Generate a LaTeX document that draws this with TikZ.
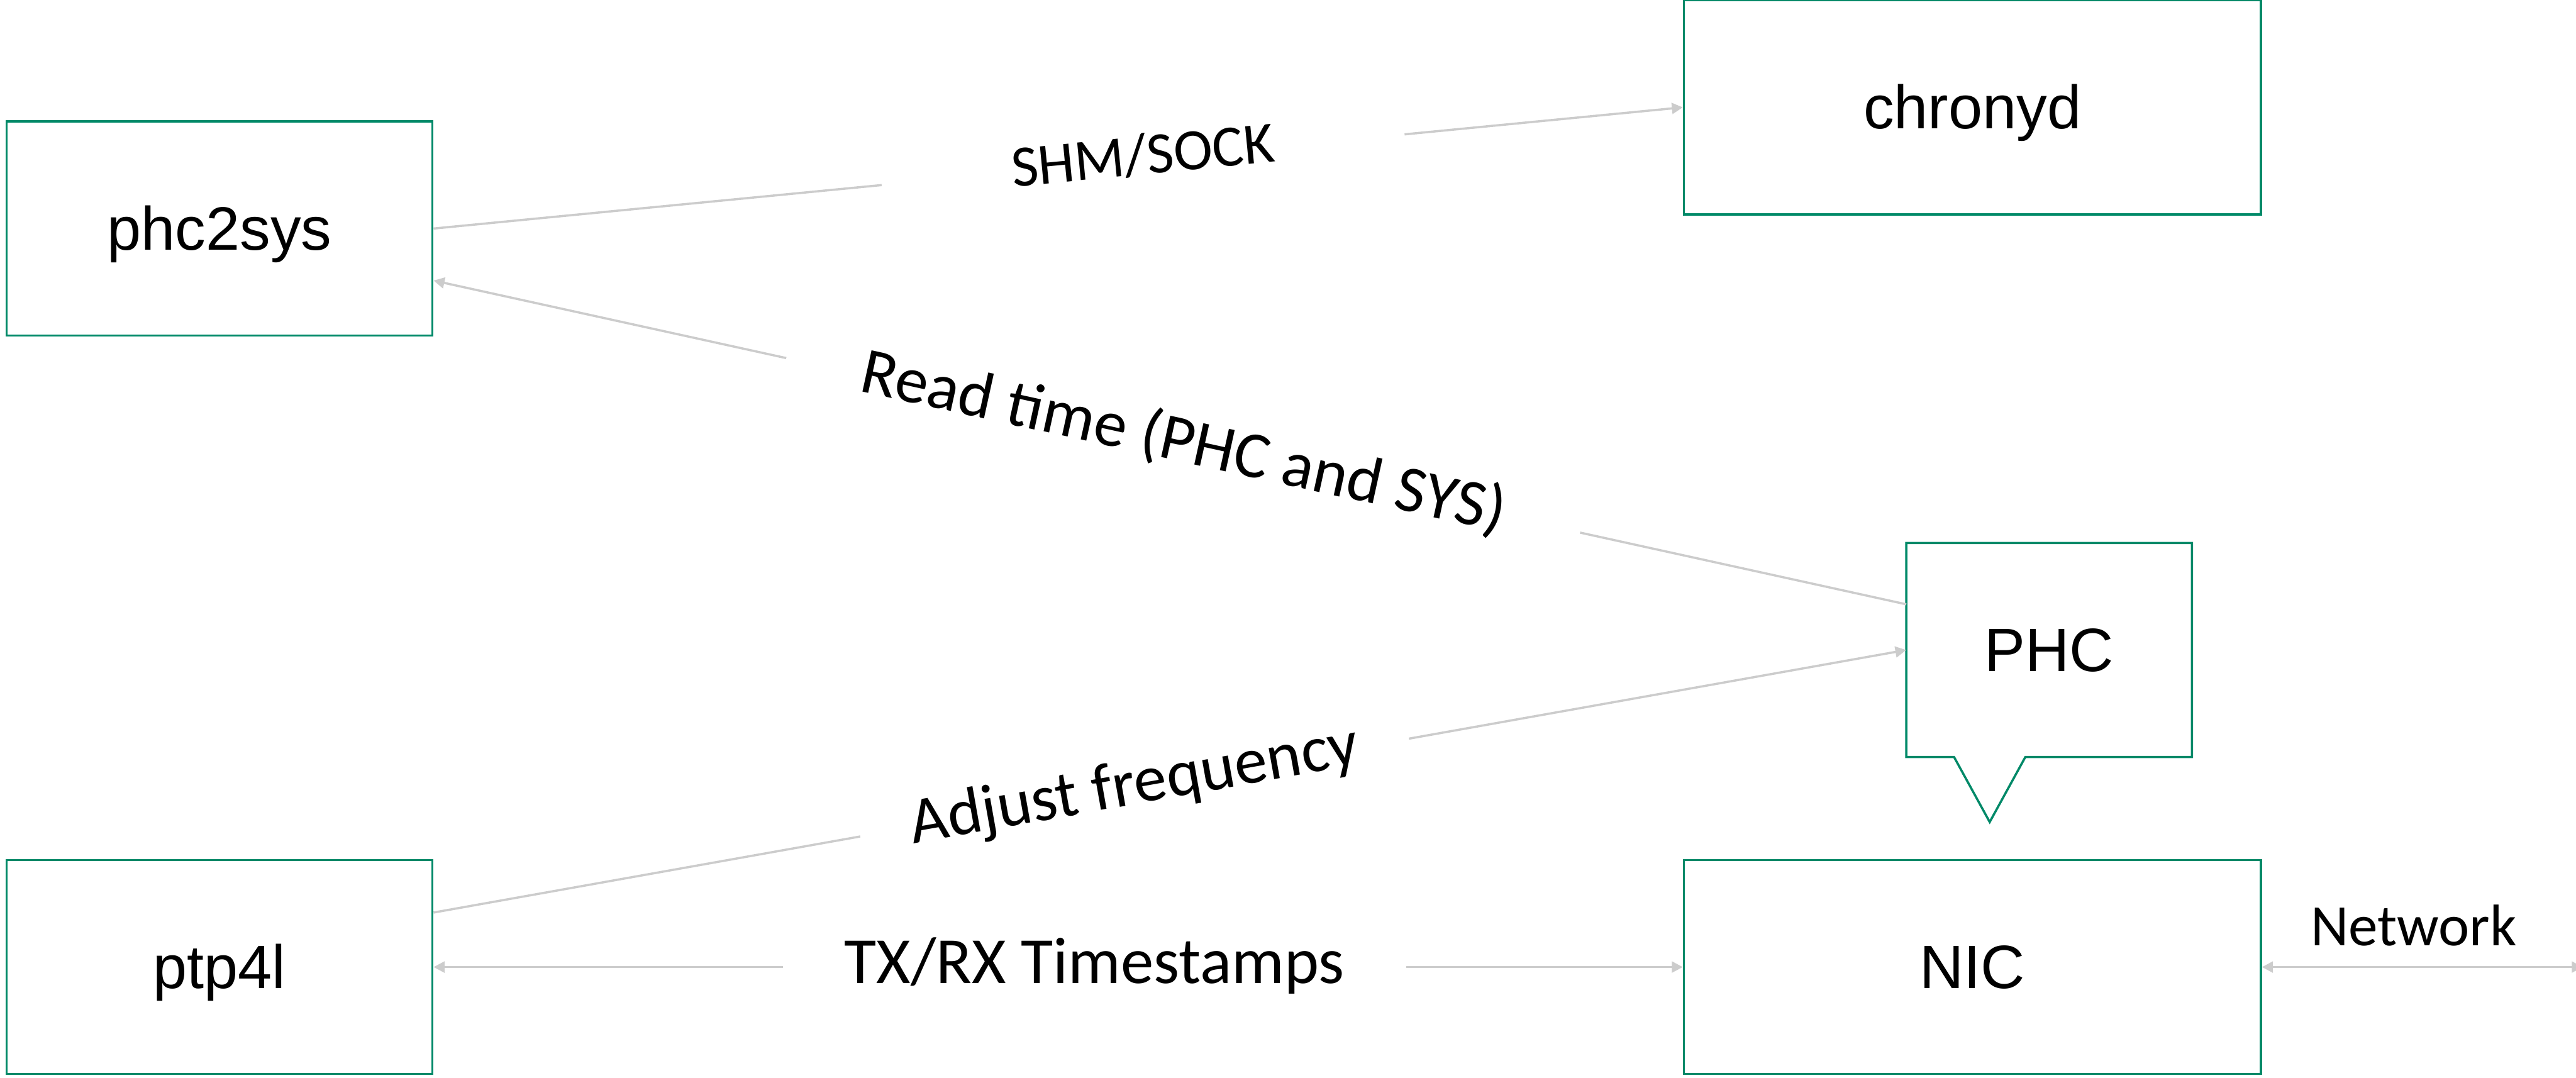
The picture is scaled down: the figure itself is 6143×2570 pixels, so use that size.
\documentclass[tikz,border=0pt]{standalone}
\usepackage{fontspec}
\usetikzlibrary{arrows.meta,calc}
\newfontfamily\boxfont{Liberation Sans}
\newfontfamily\tagfont{Carlito}
\definecolor{boxgreen}{RGB}{0,137,104}
\definecolor{linkgray}{RGB}{204,204,204}

\begin{document}
\begin{tikzpicture}[x=0.01cm,y=-0.01cm,
  box/.style={draw=boxgreen, line width=0.053cm, inner sep=0pt,
    minimum width=10.15cm, minimum height=5.10cm,
    font=\boxfont\fontsize{41.5pt}{50pt}\selectfont,
    text height=1.321cm, text depth=0.310cm},
  widebox/.style={box, minimum width=13.75cm},
  link/.style={draw=linkgray, line width=0.053cm},
  headed/.style={-{Triangle[length=0.26cm,width=0.26cm]}},
  twoheaded/.style={{Triangle[length=0.26cm,width=0.26cm]}-{Triangle[length=0.26cm,width=0.26cm]}},
  tag/.style={sloped, fill=white, inner sep=0pt,
    font=\tagfont\fontsize{44.7pt}{54pt}\selectfont,
    text height=1.178cm, text depth=0.393cm},
  smalltag/.style={tag, font=\tagfont\fontsize{39.8pt}{48pt}\selectfont,
    text height=1.05cm, text depth=0.35cm},
]

\useasboundingbox (0,0) rectangle (6143,2570);

% processes and hardware blocks
\node[box] (phc2sys) at (523.5,545) {phc2sys};
\node[box] (ptp4l) at (523.5,2306) {ptp4l};
\node[widebox] (chronyd) at (4703.5,256) {chronyd};
\node[widebox] (nic) at (4703.5,2306) {NIC};
\node[box, draw=none, outer sep=0pt, minimum width=6.81cm] (phc) at (4886.5,1550) {PHC};

% PHC drawn as a callout pointing down to the NIC
\coordinate (pbl) at ($(phc.south west)+(114,0)$);
\coordinate (pbr) at ($(phc.south west)+(284,0)$);
\coordinate (ptip) at ($(phc.south west)+(199,155)$);
\draw[boxgreen, line width=0.053cm, line join=miter]
  (phc.north west) -- (phc.north east) -- (phc.south east) -- (pbr)
  -- (ptip) -- (pbl) -- (phc.south west) -- cycle;

% connectors
\draw[link, headed] (phc2sys.east) --
  node[smalltag, pos=0.568, minimum width=12.52cm] (shm) {SHM/SOCK} (chronyd.west);

\coordinate (rdfrom) at ($(phc.west)+(0,-109)$);
\coordinate (rdto) at ($(phc2sys.east)+(0,124)$);
\draw[link, headed] (rdfrom) --
  node[tag, pos=0.491, minimum width=19.37cm] (rd) {Read time (PHC and SYS)} (rdto);

\coordinate (adjfrom) at ($(ptp4l.east)+(0,-130)$);
\draw[link, headed] (adjfrom) --
  node[tag, pos=0.476, minimum width=13.28cm] (adj) {Adjust frequency} (phc.west);

\draw[link, twoheaded] (ptp4l.east) --
  node[tag, pos=0.529, minimum width=14.86cm] (ts) {TX/RX Timestamps} (nic.west);

\coordinate (netend) at (6159,2306);
\draw[link, twoheaded] (nic.east) -- (netend);
\node[smalltag, fill=none] (netlabel) at (5756,2220) {Network};

\end{tikzpicture}
\end{document}
